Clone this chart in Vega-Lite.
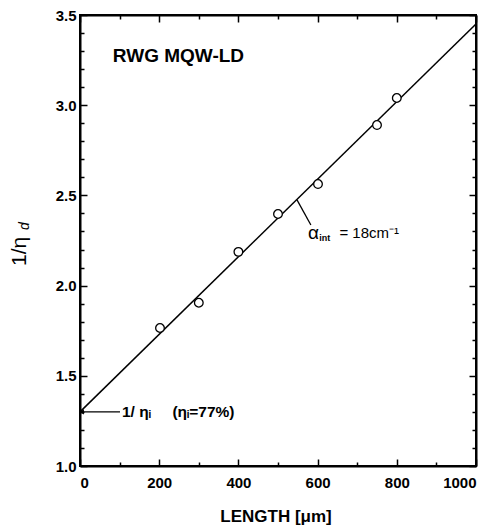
{
  "$schema": "https://vega.github.io/schema/vega-lite/v6.json",
  "width": 396,
  "height": 451,
  "autosize": "none",
  "padding": {"left": 80, "top": 15, "right": 15, "bottom": 65},
  "background": "white",
  "config": {
    "view": {"stroke": "black", "strokeWidth": 2},
    "font": "Liberation Sans",
    "axis": {"grid": false, "domainColor": "black", "domainWidth": 2, "tickColor": "black", "labelColor": "black", "titleColor": "black", "labelFont": "Liberation Sans", "labelFontWeight": "bold", "labelFontSize": 15}
  },
  "datasets": {
    "fit": [{"length": 0, "inv": 1.3}, {"length": 1000, "inv": 3.45}],
    "meas": [
      {"length": 202, "inv": 1.765},
      {"length": 300, "inv": 1.905},
      {"length": 400, "inv": 2.187},
      {"length": 500, "inv": 2.397},
      {"length": 601, "inv": 2.563},
      {"length": 750, "inv": 2.89},
      {"length": 800, "inv": 3.04}
    ],
    "title": [{"length": 83, "inv": 3.27, "label": "RWG MQW-LD"}],
    "arrow": [{"length": 101, "inv": 1.3, "x0": 0}],
    "arrowhead": [{"length": 4, "inv": 1.3}],
    "ilabel": [{"length": 106, "inv": 1.3, "label": "1/ ηᵢ\u00a0\u00a0\u00a0\u00a0 (ηᵢ=77%)"}],
    "leader": [{"length": 548, "inv": 2.475, "length2": 583, "inv2": 2.336}],
    "alpha": [{"length": 576, "inv": 2.29, "label": "α"}],
    "asub": [{"length": 604, "inv": 2.262, "label": "int"}],
    "arest": [{"length": 655, "inv": 2.29, "label": "= 18cm⁻¹"}],
    "ytitle": [{"length": -152, "inv": 2.19, "label": "1/η"}],
    "ysub": [{"length": -139, "inv": 2.33, "label": "d"}],
    "xtitle": [{"length": 495, "inv": 0.72, "label": "LENGTH [μm]"}]
  },
  "resolve": {"axis": {"x": "independent", "y": "independent"}},
  "layer": [
    {
      "data": {"name": "fit"},
      "mark": {"type": "line", "color": "black", "strokeWidth": 1.5},
      "encoding": {
        "x": {"field": "length", "type": "quantitative", "scale": {"domain": [0, 1000], "nice": false, "zero": false},
          "axis": {"orient": "bottom", "title": null, "format": "d", "values": [0,100,200,300,400,500,600,700,800,900,1000],
            "tickSize": {"condition": {"test": "datum.value % 200 === 0", "value": -7}, "value": -4},
            "tickWidth": 1.5, "labelPadding": 16,
            "labelExpr": "datum.value % 200 === 0 ? datum.label : ''"}},
        "y": {"field": "inv", "type": "quantitative", "scale": {"domain": [1, 3.5], "nice": false, "zero": false},
          "axis": {"orient": "left", "title": null, "format": ".1f",
            "values": [1,1.1,1.2,1.3,1.4,1.5,1.6,1.7,1.8,1.9,2,2.1,2.2,2.3,2.4,2.5,2.6,2.7,2.8,2.9,3,3.1,3.2,3.3,3.4,3.5],
            "tickSize": {"condition": {"test": "abs(datum.value*2 - round(datum.value*2)) < 0.001", "value": -7}, "value": -4},
            "tickWidth": 1.5, "labelPadding": 11,
            "labelExpr": "abs(datum.value*2 - round(datum.value*2)) < 0.001 ? datum.label : ''"}}
      }
    },
    {
      "data": {"name": "meas"},
      "mark": {"type": "point", "shape": "circle", "filled": true, "fill": "white", "stroke": "black", "strokeWidth": 1.3, "size": 75, "opacity": 1},
      "encoding": {
        "x": {"field": "length", "type": "quantitative",
          "axis": {"orient": "top", "title": null, "labels": false, "values": [0,100,200,300,400,500,600,700,800,900,1000],
            "tickSize": {"condition": {"test": "datum.value % 200 === 0", "value": -7}, "value": -4}, "tickWidth": 1.5}},
        "y": {"field": "inv", "type": "quantitative",
          "axis": {"orient": "right", "title": null, "labels": false,
            "values": [1,1.1,1.2,1.3,1.4,1.5,1.6,1.7,1.8,1.9,2,2.1,2.2,2.3,2.4,2.5,2.6,2.7,2.8,2.9,3,3.1,3.2,3.3,3.4,3.5],
            "tickSize": {"condition": {"test": "abs(datum.value*2 - round(datum.value*2)) < 0.001", "value": -7}, "value": -4}, "tickWidth": 1.5}}
      }
    },
    {
      "data": {"name": "title"},
      "mark": {"type": "text", "align": "left", "baseline": "middle", "fontSize": 19, "fontWeight": "bold", "color": "black"},
      "encoding": {
        "x": {"field": "length", "type": "quantitative", "axis": null},
        "y": {"field": "inv", "type": "quantitative", "axis": null},
        "text": {"field": "label"}
      }
    },
    {
      "data": {"name": "arrow"},
      "mark": {"type": "rule", "color": "black", "strokeWidth": 1.3},
      "encoding": {
        "x": {"field": "x0", "type": "quantitative", "axis": null},
        "x2": {"field": "length"},
        "y": {"field": "inv", "type": "quantitative", "axis": null}
      }
    },
    {
      "data": {"name": "arrowhead"},
      "mark": {"type": "point", "shape": "triangle-left", "filled": true, "color": "black", "size": 30, "opacity": 1},
      "encoding": {
        "x": {"field": "length", "type": "quantitative", "axis": null},
        "y": {"field": "inv", "type": "quantitative", "axis": null}
      }
    },
    {
      "data": {"name": "ilabel"},
      "mark": {"type": "text", "align": "left", "baseline": "middle", "fontSize": 15.5, "fontWeight": "bold", "color": "black"},
      "encoding": {
        "x": {"field": "length", "type": "quantitative", "axis": null},
        "y": {"field": "inv", "type": "quantitative", "axis": null},
        "text": {"field": "label"}
      }
    },
    {
      "data": {"name": "leader"},
      "mark": {"type": "rule", "color": "black", "strokeWidth": 1.3},
      "encoding": {
        "x": {"field": "length", "type": "quantitative", "axis": null},
        "x2": {"field": "length2"},
        "y": {"field": "inv", "type": "quantitative", "axis": null},
        "y2": {"field": "inv2"}
      }
    },
    {
      "data": {"name": "alpha"},
      "mark": {"type": "text", "align": "left", "baseline": "middle", "fontSize": 19, "color": "black"},
      "encoding": {
        "x": {"field": "length", "type": "quantitative", "axis": null},
        "y": {"field": "inv", "type": "quantitative", "axis": null},
        "text": {"field": "label"}
      }
    },
    {
      "data": {"name": "asub"},
      "mark": {"type": "text", "align": "left", "baseline": "middle", "fontSize": 9, "fontWeight": "bold", "color": "black"},
      "encoding": {
        "x": {"field": "length", "type": "quantitative", "axis": null},
        "y": {"field": "inv", "type": "quantitative", "axis": null},
        "text": {"field": "label"}
      }
    },
    {
      "data": {"name": "arest"},
      "mark": {"type": "text", "align": "left", "baseline": "middle", "fontSize": 15, "color": "black"},
      "encoding": {
        "x": {"field": "length", "type": "quantitative", "axis": null},
        "y": {"field": "inv", "type": "quantitative", "axis": null},
        "text": {"field": "label"}
      }
    },
    {
      "data": {"name": "ytitle"},
      "mark": {"type": "text", "align": "center", "baseline": "middle", "fontSize": 21, "angle": 270, "color": "black"},
      "encoding": {
        "x": {"field": "length", "type": "quantitative", "axis": null},
        "y": {"field": "inv", "type": "quantitative", "axis": null},
        "text": {"field": "label"}
      }
    },
    {
      "data": {"name": "ysub"},
      "mark": {"type": "text", "align": "center", "baseline": "middle", "fontSize": 14, "fontStyle": "italic", "angle": 270, "color": "black"},
      "encoding": {
        "x": {"field": "length", "type": "quantitative", "axis": null},
        "y": {"field": "inv", "type": "quantitative", "axis": null},
        "text": {"field": "label"}
      }
    },
    {
      "data": {"name": "xtitle"},
      "mark": {"type": "text", "align": "center", "baseline": "middle", "fontSize": 17, "fontWeight": "bold", "color": "black"},
      "encoding": {
        "x": {"field": "length", "type": "quantitative", "axis": null},
        "y": {"field": "inv", "type": "quantitative", "axis": null},
        "text": {"field": "label"}
      }
    }
  ]
}
